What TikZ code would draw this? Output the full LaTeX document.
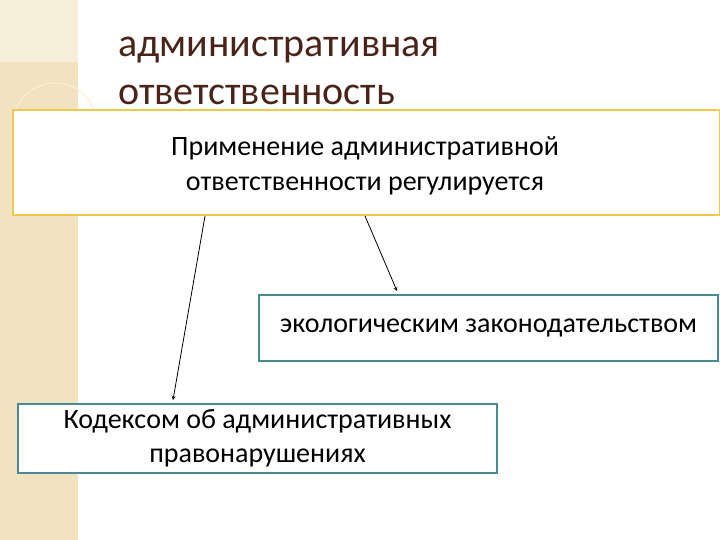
\documentclass[tikz,border=0pt]{standalone}
\usepackage{fontspec}
\setmainfont{Carlito}
\definecolor{tealb}{HTML}{4A8A94}
\definecolor{yb}{HTML}{F0C850}
\definecolor{ttl}{HTML}{4A2418}
\definecolor{strip}{HTML}{F2E3C0}
\begin{document}
\begin{tikzpicture}[x=1pt,y=-1pt,
  box/.style={draw=#1,line width=2pt,fill=white,inner sep=0pt,align=center,font=\fontsize{28}{34}\selectfont},
  arr/.style={-stealth,line width=0.8pt}]
\useasboundingbox (0,0) rectangle (720,540);
\fill[white] (0,0) rectangle (720,540);
\fill[strip] (0,0) rectangle (78,540);
\fill[strip!60!white] (0,0) rectangle (78,62);
\draw[white,line width=1pt] (65,0) arc (0:-90:60);
\draw[white!85!orange,line width=1pt] (55,125) circle (42);
\node[anchor=west,font=\fontsize{40}{48}\selectfont,text=ttl,align=left,inner sep=0pt] (title) at (118,71) {административная\\ответственность};
\node[box=yb,minimum width=707,minimum height=105,anchor=north west] (a) at (12,109) {};
\node (at) at (365,166) [align=center,font=\fontsize{28}{35}\selectfont] {Применение административной\\ответственности регулируется};
\node[box=tealb,minimum width=459,minimum height=66,anchor=north west] (b) at (258,294) {\raisebox{-3pt}{экологическим законодательством}};
\node[box=tealb,minimum width=479,minimum height=69,anchor=north west] (c) at (17,403) {Кодексом об административных\\правонарушениях};
\coordinate (s1) at (205,216);
\coordinate (e1) at (173,400);
\coordinate (s2) at (365,216);
\coordinate (e2) at (397,291);
\draw[arr] (s1) -- (e1);
\draw[arr] (s2) -- (e2);
\end{tikzpicture}
\end{document}
